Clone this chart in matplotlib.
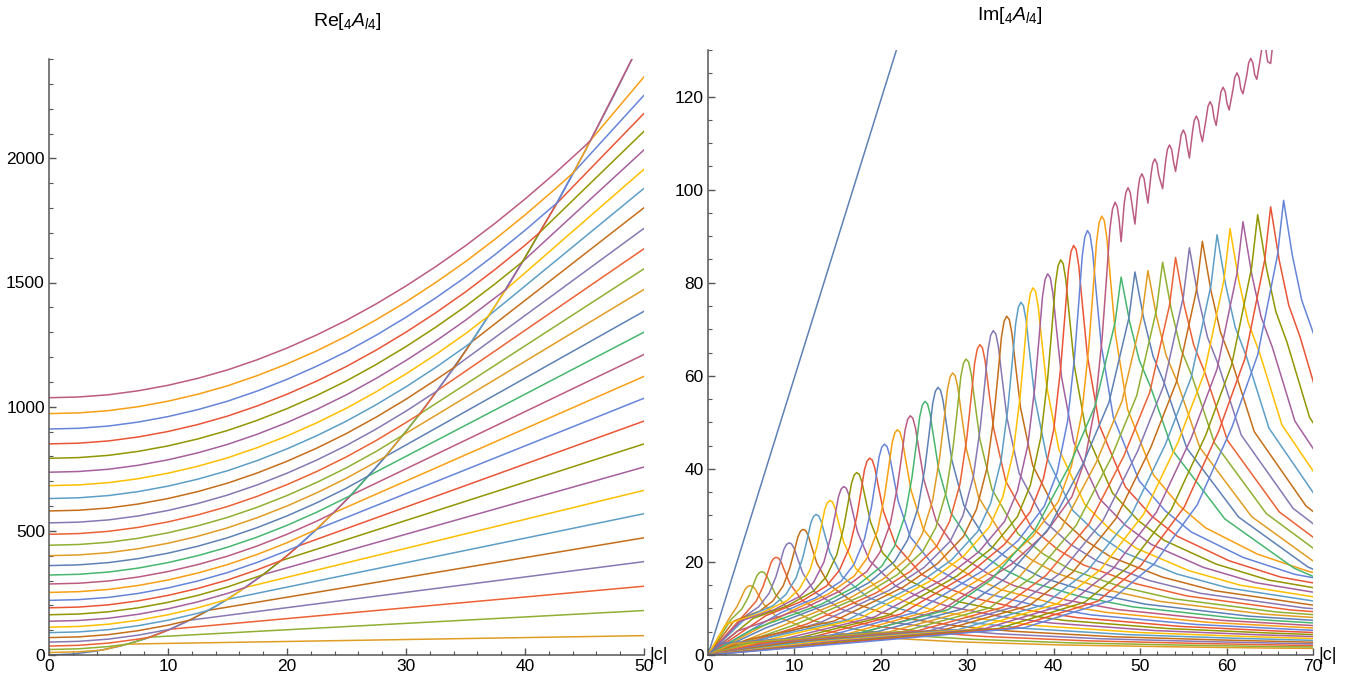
import numpy as np
import matplotlib
matplotlib.use('Agg')
import matplotlib.pyplot as plt
from matplotlib.ticker import MultipleLocator

plt.rcParams['font.family'] = ['Liberation Sans', 'DejaVu Sans']
plt.rcParams['mathtext.fontset'] = 'custom'
plt.rcParams['mathtext.rm'] = 'Liberation Sans'
plt.rcParams['mathtext.it'] = 'Liberation Sans:italic'

# Mathematica default plot colours, cycled by curve number
palette = ['#5E81B5', '#E19C24', '#8FB032', '#EB6235', '#8778B3', '#C56E1A', '#5D9EC7',
           '#FFBF00', '#A5609D', '#929600', '#E95536', '#6685D9', '#F89F13', '#BC5B80', '#47B66F']

# ---------------- Re part (left) ----------------
re_grid = [0, 2.5, 5, 7.5, 10, 12.5, 15, 17.5, 20, 22.5, 25, 27.5, 30, 32.5, 35, 37.5, 40, 42.5, 45]
# value of each curve on the grid, up to where it meets the steep branch
re_upper = [
    [0],
    [10, 13],
    [22, 25, 34],
    [36, 39, 48, 64],
    [52, 55, 64, 80, 102],
    [70, 73, 82, 98, 120],
    [90, 93, 102, 118, 140, 168],
    [112, 115, 124, 140, 162, 190],
    [136, 139, 148, 164, 186, 214, 248],
    [162, 165, 174, 190, 212, 240, 274, 315],
    [190, 193, 202, 218, 240, 268, 302, 343],
    [220, 223, 232, 248, 270, 298, 332, 373, 420],
    [252, 255, 264, 280, 302, 330, 364, 405, 452],
    [286, 289, 298, 314, 336, 364, 398, 439, 486, 539],
    [322, 325, 334, 350, 372, 400, 434, 475, 522, 575, 634],
    [360, 363, 372, 388, 410, 438, 472, 513, 560, 613, 672],
    [400, 403, 412, 428, 450, 478, 512, 553, 600, 653, 712, 778],
    [442, 445, 454, 470, 492, 520, 554, 595, 642, 695, 754, 820],
    [486, 489, 498, 514, 536, 564, 598, 639, 686, 739, 798, 864, 936],
    [532, 535, 544, 560, 582, 610, 644, 685, 732, 785, 844, 910, 982, 1060],
    [580, 583, 592, 608, 630, 658, 692, 733, 780, 833, 892, 958, 1030, 1108],
    [630, 633, 642, 658, 680, 708, 742, 783, 830, 883, 942, 1008, 1080, 1158, 1242],
    [682, 685, 694, 710, 732, 760, 794, 835, 882, 935, 994, 1060, 1132, 1210, 1294],
    [736, 739, 748, 764, 786, 814, 848, 889, 936, 989, 1048, 1114, 1186, 1264, 1348, 1439],
    [792, 795, 804, 820, 842, 870, 904, 945, 992, 1045, 1104, 1170, 1242, 1320, 1404, 1495],
    [850, 853, 862, 878, 900, 928, 962, 1003, 1050, 1103, 1162, 1228, 1300, 1378, 1462, 1553, 1650],
    [910, 913, 922, 938, 960, 988, 1022, 1063, 1110, 1163, 1222, 1288, 1360, 1438, 1522, 1613, 1710, 1813],
    [972, 975, 984, 1000, 1022, 1050, 1084, 1125, 1172, 1225, 1284, 1350, 1422, 1500, 1584, 1675, 1772, 1875],
    [1036, 1039, 1048, 1064, 1086, 1114, 1148, 1189, 1236, 1289, 1348, 1414, 1486, 1564, 1648, 1739,
     1836, 1939, 2048],
]
# where each curve meets the steep branch
re_cross_c = [0, 4.5, 6.6, 8.5, 10.2, 11.8, 13.4, 15.0, 16.5, 18.0, 19.5, 21.0, 22.4, 23.9, 25.4,
              26.8, 28.3, 29.7, 31.2, 32.6, 34.1, 35.5, 36.9, 38.4, 39.8, 41.2, 42.7, 44.1, 45.5]
re_cross_v = [0, 20, 44, 72, 104, 140, 180, 224, 272, 324, 380, 440, 504, 572, 644,
              720, 800, 884, 972, 1064, 1160, 1260, 1364, 1472, 1584, 1700, 1820, 1944, 2072]
# value at |c| = 50 on the straight lower branch
re_end = [-20, 78, 179, 277, 376, 472, 569, 663, 757, 850, 942, 1034, 1122, 1210, 1300, 1384,
          1472, 1555, 1636, 1718, 1801, 1879, 1956, 2034, 2109, 2181, 2254, 2328, 2401]
re_end_c = 49.0  # last curve leaves the frame at the top
steep_c = [0, 2, 4, 6, 8, 10, 12, 14, 16, 18, 20, 22.5, 25, 27.5, 30, 32.5, 35, 37.5, 40, 42.5,
           45, 47.5, 49]
steep_v = [0, 4, 16, 36, 64, 100, 144, 196, 256, 324, 400, 506, 625, 756, 900, 1056, 1225, 1406,
           1600, 1806, 2025, 2256, 2401]

# ---------------- Im part (right) ----------------
line_c = [0, 21.8]
line_v = [0, 130]
# rounded arches, first family
peak_c = [4.86, 6.2, 7.87, 9.37, 11.0, 12.5, 14.1, 15.7, 17.2, 18.7, 20.4, 21.9, 23.4, 25.1,
          26.6, 28.3, 29.85, 31.45, 33.0, 34.56, 36.2, 37.6, 39.3, 40.8, 42.3, 43.9, 45.55]
peak_h = [14.9, 17.9, 21.0, 24.1, 27.0, 30.2, 33.2, 36.2, 39.2, 42.3, 45.3, 48.4, 51.4, 54.5,
          57.5, 60.6, 63.6, 66.7, 69.7, 72.8, 75.8, 78.9, 81.9, 84.9, 88.0, 91.2, 94.3]
# arch shape read around a peak: offset in |c| and share of the peak height
arch_dc = [-60, -50, -40, -30, -20, -12, -8, -5, -3.5, -2.3, -1.5, -1.0, -0.6, -0.3, 0,
           0.3, 0.6, 1.0, 1.6, 3, 6, 9, 12, 18, 24, 36, 48, 60, 72]
arch_fr = [0.004, 0.009, 0.018, 0.045, 0.10, 0.20, 0.27, 0.35, 0.43, 0.55, 0.70, 0.83, 0.94, 0.985, 1,
           0.99, 0.95, 0.86, 0.73, 0.56, 0.41, 0.34, 0.29, 0.23, 0.19, 0.145, 0.12, 0.10, 0.09]
# the arch chain that keeps climbing (curve 29)
mag_rise_c = [0, 17.1, 27.1, 35.1, 39.1, 42.1, 43.6, 44.8, 45.6, 46.1, 46.5, 46.8]
mag_rise_v = [0, 4.4, 9.7, 19.5, 26.3, 34.0, 41.8, 53.5, 68.1, 80.8, 91.5, 95.8]
mag_peak_c = [47.1, 48.6, 50.2, 51.7, 53.4, 55.0, 56.5, 58.1, 59.6, 61.2, 62.8, 64.3]
mag_peak_v = [97.3, 100.4, 103.4, 106.6, 109.6, 112.8, 115.8, 118.9, 122.0, 125.1, 128.2, 131.0]
mag_dip_c = [47.8, 49.4, 50.9, 52.6, 54.1, 55.7, 57.2, 58.8, 60.3, 61.9, 63.5, 65.1]
mag_dip_v = [88.8, 92.6, 97.1, 100.2, 103.9, 106.8, 110.3, 113.8, 117.1, 120.6, 123.7, 127.1]
mag_top_dc = [-0.45, -0.25, 0, 0.25, 0.45]
mag_top_drop = [3.5, 1.0, 0, 1.0, 3.5]
# sharp spikes, second family
spike_c = [47.8, 49.4, 50.9, 52.6, 54.1, 55.7, 57.2, 58.9, 60.4, 61.9, 63.6, 65.1, 66.6]
spike_h = [81.2, 82.3, 82.6, 84.4, 85.4, 87.5, 88.9, 90.3, 91.6, 93.1, 94.6, 96.3, 97.7]
spike_dc = [-48, -30, -20, -15, -10, -6, -3, -1.85, -0.7, 0, 1.0, 2.1, 3.4, 6, 12, 20, 24]
spike_fr = [0.03, 0.06, 0.12, 0.20, 0.33, 0.50, 0.66, 0.77, 0.88, 1, 0.88, 0.78, 0.71, 0.54,
            0.36, 0.23, 0.19]

fig = plt.figure(figsize=(13.51, 6.8), dpi=100)
ax1 = fig.add_axes([49 / 1351, 25 / 680, 595 / 1351, 596 / 680])
ax2 = fig.add_axes([708 / 1351, 25 / 680, 605 / 1351, 605 / 680])


def style(ax, xmax, ymax, xmaj, xmin, ymaj, ymin):
    ax.set_xlim(0, xmax)
    ax.set_ylim(0, ymax)
    for s in ['top', 'right']:
        ax.spines[s].set_visible(False)
    for s in ['left', 'bottom']:
        ax.spines[s].set_color('#555555')
        ax.spines[s].set_linewidth(1.1)
    ax.xaxis.set_major_locator(MultipleLocator(xmaj))
    ax.xaxis.set_minor_locator(MultipleLocator(xmin))
    ax.yaxis.set_major_locator(MultipleLocator(ymaj))
    ax.yaxis.set_minor_locator(MultipleLocator(ymin))
    ax.tick_params(which='both', direction='in', color='#555555', labelsize=12.5, pad=3)
    ax.tick_params(which='major', length=5, width=1)
    ax.tick_params(which='minor', length=3, width=0.8)
    ax.annotate('|c|', xy=(1, 0), xycoords='axes fraction', xytext=(4, 0),
                textcoords='offset points', ha='left', va='center', fontsize=13)


def shaped(p, h, dcs, frs, lo):
    xs, ys = [0], [0]
    for dc, fr in zip(dcs, frs):
        c = p + dc
        if c < lo:
            continue
        xs.append(c)
        ys.append(h * fr)
        if c > 70:
            break
    return xs, ys


lw = 1.1
# left panel
ax1.plot(steep_c, steep_v, color=palette[0], lw=lw)
for i in range(1, len(re_upper)):
    xs = re_grid[:len(re_upper[i])] + [re_cross_c[i]]
    ys = list(re_upper[i]) + [re_cross_v[i]]
    if i + 1 < len(re_upper):
        xs += [re_cross_c[i + 1], 50]
        ys += [re_cross_v[i + 1], re_end[i]]
    else:
        xs += [re_end_c]
        ys += [re_end[i]]
    ax1.plot(xs, ys, color=palette[i % 15], lw=lw)
style(ax1, 50, 2400, 10, 2, 500, 100)

# right panel
ax2.plot(line_c, line_v, color=palette[0], lw=lw)
for k in range(len(peak_c)):
    lo = peak_c[k] * (0.4 if k < 4 else 0.1)
    xs, ys = shaped(peak_c[k], peak_h[k], arch_dc, arch_fr, lo)
    ax2.plot(xs, ys, color=palette[(k + 1) % 15], lw=lw)

xs, ys = list(mag_rise_c), list(mag_rise_v)
for i in range(len(mag_peak_c)):
    for dc, dr in zip(mag_top_dc, mag_top_drop):
        if i == 0 and dc < 0:
            continue
        xs.append(mag_peak_c[i] + dc)
        ys.append(mag_peak_v[i] - dr)
    xs.append(mag_dip_c[i])
    ys.append(mag_dip_v[i])
xs += [65.5]
ys += [134]
ax2.plot(xs, ys, color=palette[13], lw=lw)

for j in range(len(spike_c)):
    xs, ys = shaped(spike_c[j], spike_h[j], spike_dc, spike_fr, 0.3)
    ax2.plot(xs, ys, color=palette[(j + 14) % 15], lw=lw)
style(ax2, 70, 130, 10, 2, 20, 5)

fig.text(347 / 1351, 1 - 22 / 680, r'Re$[{}_{4}\mathit{A}_{\mathit{l}4}]$', ha='center', va='center', fontsize=14)
fig.text(1010 / 1351, 1 - 15 / 680, r'Im$[{}_{4}\mathit{A}_{\mathit{l}4}]$', ha='center', va='center', fontsize=14)

fig.savefig('out.png', dpi=100)
